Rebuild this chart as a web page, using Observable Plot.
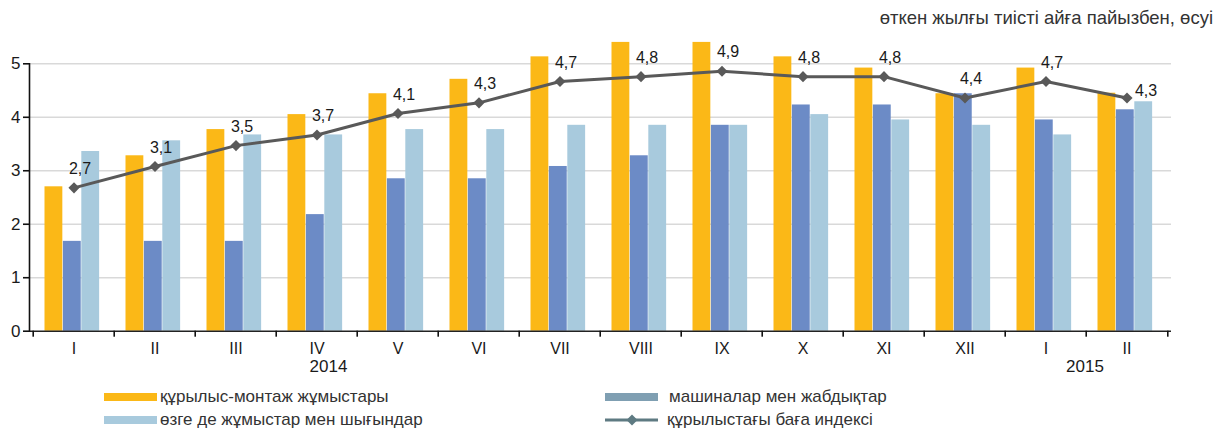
<!DOCTYPE html>
<html><head><meta charset="utf-8">
<script src="https://cdn.jsdelivr.net/npm/d3@7"></script>
<script src="https://cdn.jsdelivr.net/npm/@observablehq/plot@0.6"></script>
<style>
body{margin:0;background:#fff;font-family:"Liberation Sans",Arial,sans-serif;color:#1a1a1a}
#wrap{position:relative;width:1216px;height:428px;overflow:hidden}
#title{position:absolute;right:3px;top:9px;font-size:18.5px;line-height:18px;color:#333;white-space:nowrap}
#chart{position:absolute;left:0;top:30px}
.leg{position:absolute;font-size:17px;line-height:17px;color:#333;white-space:nowrap}
.sw{position:absolute;width:53px;height:8px}
</style></head>
<body><div id="wrap">
<div id="title">өткен жылғы тиісті айға пайызбен, өсуі</div>
<div id="chart"></div>
<div id="legend"></div>
</div>
<script>
const months = ["I","II","III","IV","V","VI","VII","VIII","IX","X","XI","XII","I","II"];
const years = [2014,2014,2014,2014,2014,2014,2014,2014,2014,2014,2014,2014,2015,2015];
const construction = [2.7,3.28,3.77,4.05,4.44,4.71,5.13,5.4,5.4,5.13,4.92,4.44,4.92,4.45];
const machinery = [1.68,1.68,1.68,2.18,2.85,2.85,3.08,3.28,3.85,4.23,4.23,4.44,3.95,4.14];
const otherWorks = [3.36,3.56,3.67,3.67,3.77,3.77,3.85,3.85,3.85,4.05,3.95,3.85,3.67,4.29];
const priceIndex = [2.68,3.08,3.47,3.67,4.07,4.27,4.67,4.76,4.86,4.76,4.76,4.36,4.67,4.36];
const indexLabels = ["2,7","3,1","3,5","3,7","4,1","4,3","4,7","4,8","4,9","4,8","4,8","4,4","4,7","4,3"];
const yTicks = [0,1,2,3,4,5];
const yearLabels = [{year:"2014", at:3}, {year:"2015", at:12}];
const seriesNames = ["құрылыс-монтаж жұмыстары","машиналар мен жабдықтар","өзге де жұмыстар мен шығындар","құрылыстағы баға индексі"];
const colors = {construction:"#FBB817", machinery:"#6C8BC6", other:"#A8CADD", index:"#595959"};

const keys = months.map((m,i)=>`${years[i]}-${m}`);
const data = keys.map((k,i)=>({key:k, month:months[i], construction:construction[i], machinery:machinery[i], other:otherWorks[i], index:priceIndex[i], label:indexLabels[i]}));

const W = 1216, H = 357, mL = 29, mR = 45, mT = 33.3, mB = 56.3;
const bw = (W - mL - mR) / keys.length;
const barW = 18.4, start = 11.5;
const inset = j => ({insetLeft: start + j*barW, insetRight: bw - (start + (j+1)*barW)});
const monthOf = Object.fromEntries(data.map(d=>[d.key,d.month]));

const chart = Plot.plot({
  width: W, height: H,
  marginLeft: mL, marginRight: mR, marginTop: mT, marginBottom: mB,
  style: {fontFamily: '"Liberation Sans", Arial, sans-serif', fontSize: "16px", color: "#1a1a1a", background: "#fff", overflow: "visible"},
  x: {domain: keys, padding: 0, label: null},
  y: {domain: [0,5], label: null},
  marks: [
    Plot.gridY(yTicks.slice(1), {stroke:"#d9d9d9", strokeOpacity:1, strokeWidth:1.6}),
    Plot.barY(data, {x:"key", y:"construction", fill:colors.construction, ...inset(0)}),
    Plot.barY(data, {x:"key", y:"machinery", fill:colors.machinery, ...inset(1)}),
    Plot.barY(data, {x:"key", y:"other", fill:colors.other, ...inset(2)}),
    Plot.ruleY([0], {stroke:"#222", strokeWidth:1.6}),
    Plot.frame({anchor:"left", stroke:"#111", strokeWidth:1.6}),
    Plot.axisY({ticks:yTicks, tickFormat:d=>String(d), tickSize:6, tickPadding:3, fontSize:17, stroke:"#111", strokeWidth:1.6, label:null}),
    Plot.axisX({tickSize:0, tickPadding:11, fontSize:16, tickFormat: k=>monthOf[k], label:null}),
    Plot.axisX({tickSize:6, dx:-bw/2, text:null, stroke:"#111", strokeWidth:1.6, label:null}),
    Plot.axisX({ticks:[keys[keys.length-1]], tickSize:6, dx:bw/2, text:null, stroke:"#111", strokeWidth:1.6, label:null}),
    Plot.lineY(data, {x:"key", y:"index", stroke:colors.index, strokeWidth:3}),
    Plot.dot(data, {x:"key", y:"index", symbol:"diamond2", r:5, fill:colors.index, stroke:"none"}),
    Plot.text(data.slice(0,-1), {x:"key", y:"index", text:"label", dx:6, dy:-19, fontSize:16, fill:"#1a1a1a"}),
    Plot.text(data.slice(-1), {x:"key", y:"index", text:"label", dx:19, dy:-7, fontSize:16, fill:"#1a1a1a"}),
    Plot.text([yearLabels[0]], {x:d=>keys[d.at], text:"year", frameAnchor:"bottom", dx:11.5, dy:41, fontSize:17, fill:"#1a1a1a"}),
    Plot.text([yearLabels[1]], {x:d=>keys[d.at], text:"year", frameAnchor:"bottom", dx:39, dy:41, fontSize:17, fill:"#1a1a1a"})
  ]
});
document.getElementById("chart").append(chart);

const legend = document.getElementById("legend");
const items = [
  {name:seriesNames[0], color:colors.construction, sx:104, tx:160, y:397, kind:"box"},
  {name:seriesNames[1], color:"#7F9FB2", sx:605, tx:669, y:397, kind:"box"},
  {name:seriesNames[2], color:colors.other, sx:104, tx:160, y:420, kind:"box"},
  {name:seriesNames[3], color:"#5E7A82", sx:605, tx:667, y:420, kind:"line"}
];
for (const it of items) {
  if (it.kind === "box") {
    const s = document.createElement("div");
    s.className = "sw"; s.style.left = it.sx+"px"; s.style.top = (it.y-4.5)+"px"; s.style.background = it.color;
    legend.append(s);
  } else {
    const ns = "http://www.w3.org/2000/svg";
    const svg = document.createElementNS(ns,"svg");
    svg.setAttribute("width",54); svg.setAttribute("height",14);
    svg.style.position="absolute"; svg.style.left=it.sx+"px"; svg.style.top=(it.y-7.5)+"px";
    svg.innerHTML = `<line x1="0" y1="7" x2="53" y2="7" stroke="${it.color}" stroke-width="3"/><path d="M27 1.5 L32.5 7 L27 12.5 L21.5 7 Z" fill="${it.color}"/>`;
    legend.append(svg);
  }
  const t = document.createElement("div");
  t.className = "leg"; t.textContent = it.name; t.style.left = it.tx+"px"; t.style.top = (it.y-9)+"px";
  legend.append(t);
}
</script>
</body></html>
